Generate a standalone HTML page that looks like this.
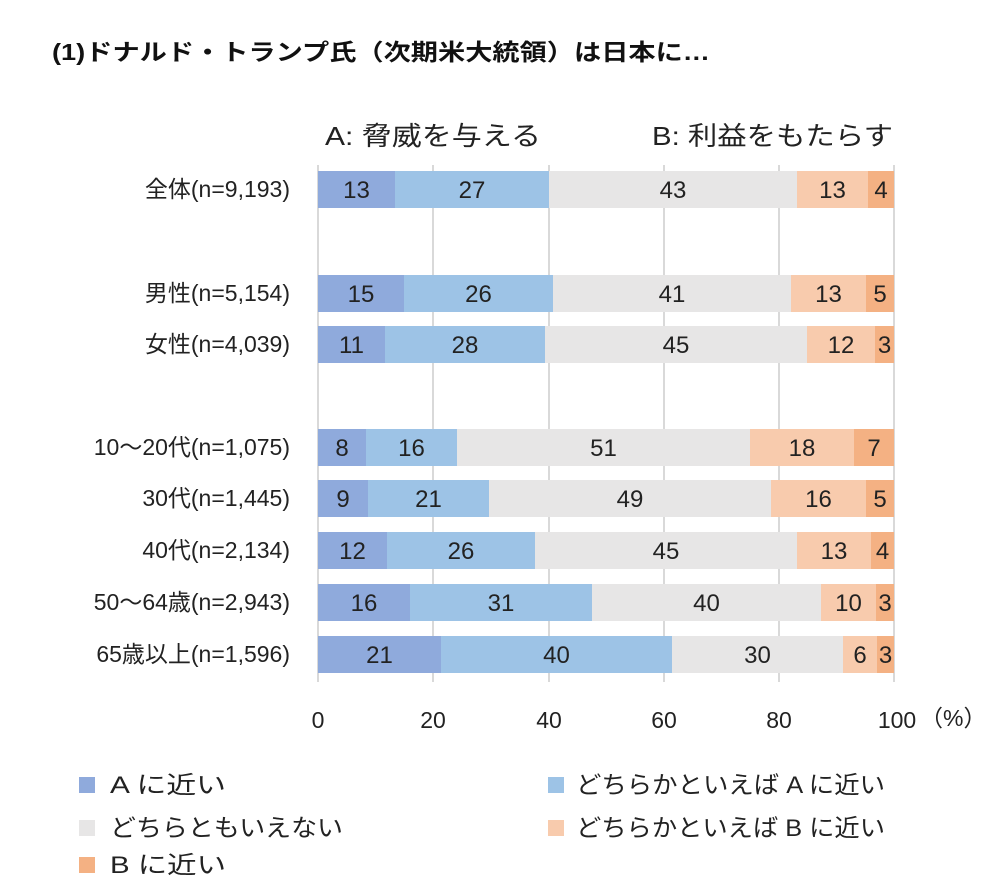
<!DOCTYPE html>
<html><head><meta charset="utf-8"><style>
body{margin:0;background:#fff;}
svg{display:block;font-family:"Liberation Sans","Noto Sans CJK JP",sans-serif;}
</style></head><body>
<svg width="1000" height="894" viewBox="0 0 1000 894">
<text x="52" y="60" font-size="23" font-weight="bold" fill="#111" textLength="658" lengthAdjust="spacingAndGlyphs">(1)ドナルド・トランプ氏（次期米大統領）は日本に…</text>
<text x="325" y="145" font-size="26" fill="#222" textLength="216" lengthAdjust="spacingAndGlyphs">A: 脅威を与える</text>
<text x="652" y="145" font-size="26" fill="#222" textLength="241" lengthAdjust="spacingAndGlyphs">B: 利益をもたらす</text>
<g stroke="#d9d9d9" stroke-width="2">
<line x1="318" y1="165" x2="318" y2="682"/>
<line x1="433" y1="165" x2="433" y2="682"/>
<line x1="549" y1="165" x2="549" y2="682"/>
<line x1="664" y1="165" x2="664" y2="682"/>
<line x1="779" y1="165" x2="779" y2="682"/>
<line x1="894" y1="165" x2="894" y2="682"/>
</g>
<g id="bars" font-size="24" fill="#222" text-anchor="middle"></g>
<g font-size="23" fill="#222" text-anchor="middle">
<text x="318" y="728">0</text><text x="433" y="728">20</text><text x="549" y="728">40</text><text x="664" y="728">60</text><text x="779" y="728">80</text><text x="897" y="728">100</text>
</g>
<text x="920" y="726" font-size="23" fill="#222">（%）</text>
<g font-size="23" fill="#222" text-anchor="end">
<text x="290" y="197">全体(n=9,193)</text>
<text x="290" y="301">男性(n=5,154)</text>
<text x="290" y="352">女性(n=4,039)</text>
<text x="290" y="455">10～20代(n=1,075)</text>
<text x="290" y="506">30代(n=1,445)</text>
<text x="290" y="558">40代(n=2,134)</text>
<text x="290" y="610">50～64歳(n=2,943)</text>
<text x="290" y="662">65歳以上(n=1,596)</text>
</g>
<rect x="79" y="777" width="16" height="16" fill="#8faadc"/>
<rect x="79" y="820" width="16" height="16" fill="#e7e6e6"/>
<rect x="79" y="857" width="16" height="16" fill="#f4b183"/>
<rect x="548" y="777" width="16" height="16" fill="#9dc3e6"/>
<rect x="548" y="820" width="16" height="16" fill="#f8cbad"/>
<g font-size="24" fill="#222">
<text x="110" y="793" textLength="116" lengthAdjust="spacingAndGlyphs">A に近い</text>
<text x="110" y="836" textLength="233" lengthAdjust="spacingAndGlyphs">どちらともいえない</text>
<text x="110" y="873" textLength="116" lengthAdjust="spacingAndGlyphs">B に近い</text>
<text x="576" y="793" textLength="309" lengthAdjust="spacingAndGlyphs">どちらかといえば A に近い</text>
<text x="576" y="836" textLength="309" lengthAdjust="spacingAndGlyphs">どちらかといえば B に近い</text>
</g>
</svg>
<script>
var rows=[[189.5,[395,549,797,868],[13,27,43,13,4]],
[293.5,[404,553,791,866],[15,26,41,13,5]],
[344.5,[385,545,807,875],[11,28,45,12,3]],
[447.5,[366,457,750,854],[8,16,51,18,7]],
[498.5,[368,489,771,866],[9,21,49,16,5]],
[550.5,[387,535,797,871],[12,26,45,13,4]],
[602.5,[410,592,821,876],[16,31,40,10,3]],
[654.5,[441,672,843,877],[21,40,30,6,3]]];
var cols=["#8faadc","#9dc3e6","#e7e6e6","#f8cbad","#f4b183"];
var g=document.getElementById("bars"),s="";
rows.forEach(function(r){var b=[318].concat(r[1]).concat([894]);
for(var i=0;i<5;i++){s+='<rect x="'+b[i]+'" y="'+(r[0]-18.5)+'" width="'+(b[i+1]-b[i])+'" height="37" fill="'+cols[i]+'"/>';
s+='<text x="'+((b[i]+b[i+1])/2)+'" y="'+(r[0]+8.5)+'">'+r[2][i]+'</text>';}});
g.innerHTML=s;
</script>
</body></html>
